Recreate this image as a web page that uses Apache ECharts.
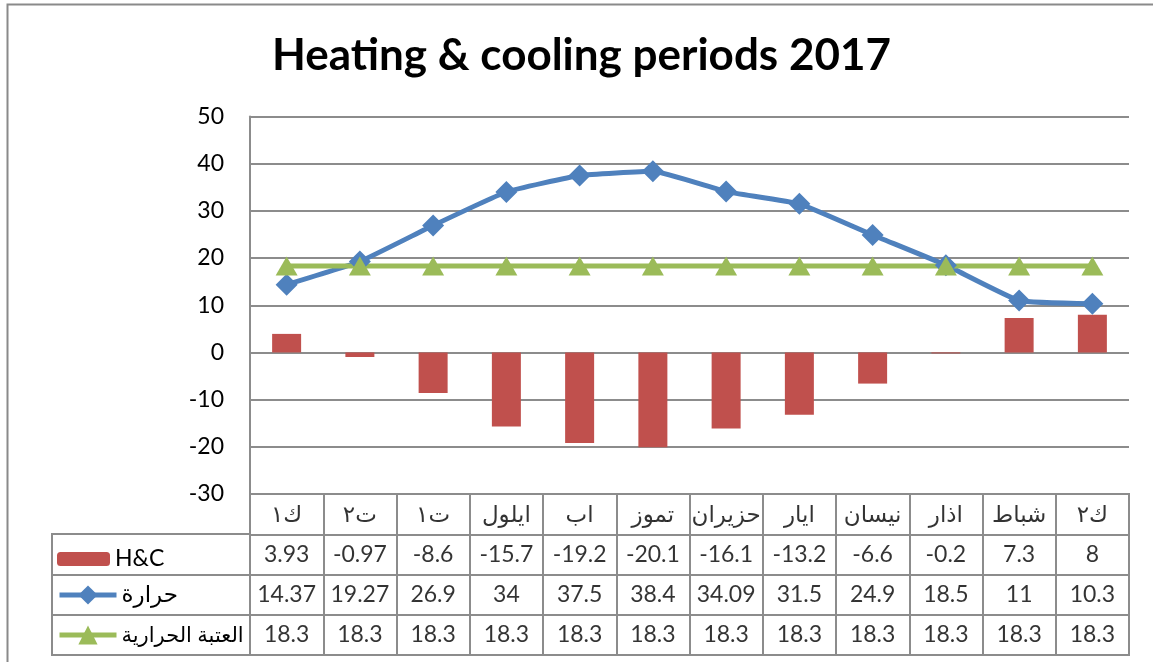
<!DOCTYPE html>
<html><head><meta charset="utf-8">
<script src="https://cdn.jsdelivr.net/npm/echarts@6/dist/echarts.min.js"></script>
<style>html,body{margin:0;padding:0;background:#fff}#c{width:1153px;height:662px}</style>
</head><body><div id="c"></div>
<script>
const titleText = 'Heating & cooling periods 2017';
const categories = ['ك١','ت٢','ت١','ايلول','اب','تموز','حزيران','ايار','نيسان','اذار','شباط','ك٢'];
const seriesNames = ['H&C','حرارة','العتبة الحرارية'];
const hcValues = [3.93,-0.97,-8.6,-15.7,-19.2,-20.1,-16.1,-13.2,-6.6,-0.2,7.3,8];
const tempValues = [14.37,19.27,26.9,34,37.5,38.4,34.09,31.5,24.9,18.5,11,10.3];
const thresholdValues = [18.3,18.3,18.3,18.3,18.3,18.3,18.3,18.3,18.3,18.3,18.3,18.3];
const yMin = -30, yMax = 50, yStep = 10;
const tableRows = ['month','hc','temp','thr'];

const FONT = "Lato, 'DejaVu Sans', sans-serif";
const GRID = '#8c8c8c';
const RED = '#C0504D', BLUE = '#4F81BD', GREEN = '#9BBB59';

const tableData = [];
const rowSources = [categories, hcValues, tempValues, thresholdValues];
rowSources.forEach((arr, r) => {
  arr.forEach((v, i) => tableData.push([categories[i], tableRows[r], String(v)]));
});

const chart = echarts.init(document.getElementById('c'), null, {renderer:'canvas'});
const legendBase = {
  orient:'vertical', left:57, padding:0, itemWidth:57, itemHeight:24,
  selectedMode:false, lineStyle:{width:5},
  textStyle:{fontFamily:FONT, fontSize:23, color:'#000', lineHeight:26}
};
chart.setOption({
  animation:false,
  backgroundColor:'#fff',
  title:{text:titleText, left:267, top:29,
    textStyle:{fontFamily:FONT, fontSize:44, fontWeight:'bold', color:'#000'}},
  graphic:[{type:'rect', shape:{x:7.5,y:4.5,width:1300,height:800},
    style:{fill:'transparent', stroke:'#8a8a8a', lineWidth:2}, silent:true, z:-10}],
  legend:[
    Object.assign({}, legendBase, {data:[seriesNames[0]], top:546, itemHeight:14, itemWidth:53}),
    Object.assign({}, legendBase, {data:[seriesNames[1]], top:582}),
    Object.assign({}, legendBase, {data:[seriesNames[2]], top:622,
      textStyle:{fontFamily:FONT, fontSize:21, color:'#000', lineHeight:26}})
  ],
  grid:[
    {left:250, right:24, top:116.5, height:377.5},
    {left:250, right:24, top:494, height:161, show:true, borderColor:GRID, borderWidth:2},
    {left:52, width:198, top:534, height:121, show:true, borderColor:GRID, borderWidth:2}
  ],
  xAxis:[
    {type:'category', gridIndex:0, data:categories, axisLine:{show:false}, axisTick:{show:false}, axisLabel:{show:false}},
    {type:'category', gridIndex:1, data:categories, axisLine:{show:false}, axisTick:{show:false}, axisLabel:{show:false},
      splitLine:{show:true, interval:0, lineStyle:{color:GRID, width:2}}},
    {type:'value', gridIndex:2, show:false, min:0, max:1}
  ],
  yAxis:[
    {type:'value', gridIndex:0, min:yMin, max:yMax, interval:yStep,
      axisLine:{show:true, lineStyle:{color:GRID, width:2}}, axisTick:{show:false},
      axisLabel:{fontFamily:FONT, fontSize:23, color:'#000', margin:26},
      splitLine:{lineStyle:{color:GRID, width:2}}},
    {type:'category', gridIndex:1, data:tableRows, inverse:true, axisLine:{show:false}, axisTick:{show:false}, axisLabel:{show:false},
      splitLine:{show:true, interval:0, lineStyle:{color:GRID, width:2}}},
    {type:'category', gridIndex:2, data:tableRows.slice(1), inverse:true, axisLine:{show:false}, axisTick:{show:false}, axisLabel:{show:false},
      splitLine:{show:true, interval:0, lineStyle:{color:GRID, width:2}}}
  ],
  series:[
    {name:seriesNames[0], type:'bar', xAxisIndex:0, yAxisIndex:0, data:hcValues, barWidth:29,
      itemStyle:{color:RED}},
    {name:seriesNames[1], type:'line', xAxisIndex:0, yAxisIndex:0, data:tempValues, smooth:0.12,
      symbol:'diamond', symbolSize:22, lineStyle:{color:BLUE, width:5}, itemStyle:{color:BLUE}},
    {name:seriesNames[2], type:'line', xAxisIndex:0, yAxisIndex:0, data:thresholdValues,
      symbol:'triangle', symbolSize:[22,19], lineStyle:{color:GREEN, width:5}, itemStyle:{color:GREEN}},
    {name:'table', type:'scatter', xAxisIndex:1, yAxisIndex:1, data:tableData, symbolSize:1,
      itemStyle:{color:'transparent'}, silent:true,
      label:{show:true, position:'inside', formatter:p=>p.value[2], fontFamily:FONT, fontSize:23, color:'#000'}}
  ]
});
</script></body></html>
